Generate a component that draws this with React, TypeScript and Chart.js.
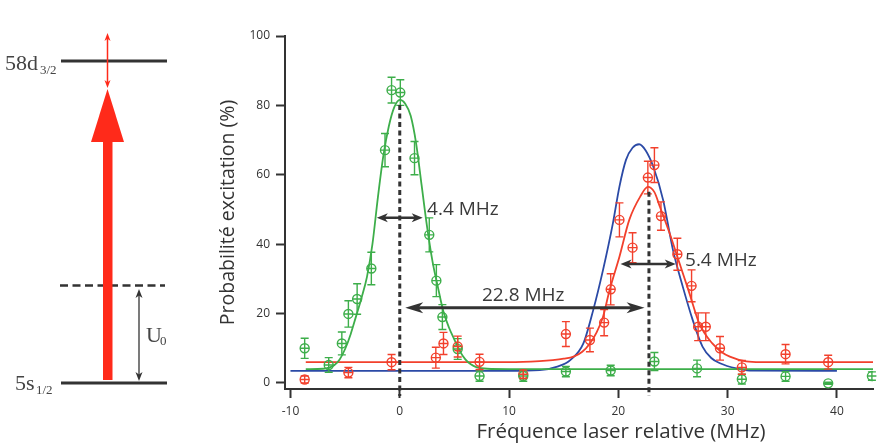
import { useEffect, useRef } from 'react';
import { Chart, registerables } from 'chart.js';

Chart.register(...registerables);

// ---------- data ----------
const xTicks = [-10, 0, 10, 20, 30, 40];
const yTicks = [0, 20, 40, 60, 80, 100];

const greenX = [-8.7, -6.5, -5.3, -4.7, -3.9, -2.6, -1.35, -0.75, 0.05, 1.35, 2.7, 3.35, 3.9, 5.3, 7.3, 11.3, 15.2, 19.3, 23.3, 27.2, 31.3, 35.3, 39.2, 43.2];
const greenY = [10.0, 5.2, 11.4, 19.9, 24.2, 33.0, 67.1, 84.4, 83.7, 64.8, 42.7, 29.5, 19.0, 9.8, 2.0, 2.0, 3.3, 3.6, 6.2, 4.2, 1.1, 1.9, -0.1, 2.0];
const greenErr = [2.9, 2.1, 3.3, 3.8, 4.4, 4.7, 4.8, 3.7, 3.7, 4.8, 4.9, 4.6, 3.6, 3.0, 1.5, 1.5, 1.5, 1.5, 2.6, 2.4, 1.4, 1.4, 0.3, 1.2];

const redX = [-8.7, -4.7, -0.75, 3.3, 4.0, 5.3, 7.3, 11.3, 15.2, 17.4, 18.7, 19.3, 20.1, 21.3, 22.7, 23.3, 23.9, 25.4, 26.7, 27.3, 28.0, 29.3, 31.3, 35.3, 39.2];
const redY = [1.0, 3.0, 6.0, 7.3, 11.4, 10.5, 6.1, 2.5, 14.1, 12.4, 17.4, 27.0, 47.0, 39.0, 59.2, 62.8, 48.1, 37.1, 28.0, 16.2, 16.2, 10.0, 4.5, 8.3, 6.0];
const redErr = [1.0, 1.5, 2.2, 3.0, 3.2, 3.0, 2.2, 1.2, 3.6, 3.4, 3.8, 4.5, 4.9, 4.3, 4.7, 5.0, 4.1, 4.6, 4.6, 4.0, 4.0, 3.4, 2.0, 2.8, 2.0];

const greenFitX = [-8.6, -7, -6.5, -6, -5.5, -5, -4.5, -4, -3.5, -3, -2.5, -2, -1.5, -1, -0.5, 0, 0.5, 1, 1.5, 2, 2.5, 3, 3.5, 4, 4.5, 5, 5.5, 6, 6.5, 7, 8, 10, 43.4];
const greenFitY = [4.0, 4.1, 4.4, 5.1, 6.8, 9.8, 14.0, 19.2, 24.5, 30.6, 40.0, 53.5, 65.5, 74.0, 79.5, 81.6, 80.5, 77.0, 69.0, 57.0, 45.0, 35.0, 27.5, 20.5, 16.0, 12.5, 9.2, 6.8, 5.4, 4.6, 4.1, 4.0, 4.0];

const redFitX = [-8.6, 10, 12.8, 14, 15, 15.9, 16.7, 17.4, 18, 18.6, 19.2, 20.1, 21.0, 22.0, 22.7, 23.3, 23.8, 24.7, 25.6, 26.5, 27.4, 28.6, 29.5, 30.2, 31.7, 33, 43.4];
const redFitY = [6.0, 6.0, 6.3, 6.6, 7.0, 7.6, 9.0, 11.4, 14.5, 19.1, 26.8, 36.4, 47.0, 53.7, 56.5, 55.0, 50.8, 43.1, 34.5, 25.9, 17.2, 11.4, 8.8, 7.6, 6.2, 6.0, 6.0];

const blueFitX = [-10, 10, 12.8, 14.5, 15.6, 16.8, 17.7, 18.6, 19.5, 20.1, 20.7, 21.3, 21.9, 22.5, 23.2, 24.1, 25.0, 25.9, 26.8, 27.7, 28.5, 29.3, 30.8, 32, 40];
const blueFitY = [3.5, 3.5, 3.7, 4.8, 6.6, 11.4, 21.0, 32.6, 46.0, 56.6, 64.3, 67.8, 68.8, 67.0, 62.3, 52.7, 38.3, 27.7, 18.2, 10.5, 7.2, 5.7, 4.2, 3.6, 3.5];

// annotations (data units)
const centerLineX = [0, 22.8];
const centerLineTop = [80.1, 55.1];
const widthArrowFrom = [-2.1, 20.2];
const widthArrowTo = [2.1, 25.25];
const widthArrowY = [47.6, 34.3];
const widthLabels = ['4.4 MHz', '5.4 MHz'];
const widthLabelX = [2.5, 26.1];
const shiftArrow = { from: 0.5, to: 22.4, y: 21.7, label: '22.8 MHz', labelX: 11.3 };

const GREEN = '#3dae4a';
const RED = '#f2402c';
const BLUE = '#2b4aa6';
const INK = '#333333';
const SANS = 'Open Sans';

function pts(xs: number[], ys: number[]) {
  return xs.map((x, i) => ({ x, y: ys[i] }));
}

function head(ctx: CanvasRenderingContext2D, tx: number, ty: number, dx: number, dy: number, len: number, half: number) {
  // dx,dy unit direction of the arrow (pointing to tip)
  const bx = tx - dx * len, by = ty - dy * len;
  const nx = -dy, ny = dx;
  const mx = tx - dx * len * 0.72, my = ty - dy * len * 0.72;
  ctx.beginPath();
  ctx.moveTo(tx, ty);
  ctx.lineTo(bx + nx * half, by + ny * half);
  ctx.lineTo(mx, my);
  ctx.lineTo(bx - nx * half, by - ny * half);
  ctx.closePath();
  ctx.fill();
}

const errorBarsPlugin = {
  id: 'errorBars',
  afterDatasetsDraw(chart: any) {
    const { ctx, scales } = chart;
    const x = scales.x, y = scales.y;
    chart.data.datasets.forEach((ds: any) => {
      if (!ds.errors) return;
      ctx.save();
      ctx.strokeStyle = ds.borderColor;
      ctx.lineWidth = 1.4;
      ds.data.forEach((p: any, i: number) => {
        const px = x.getPixelForValue(p.x);
        const py = y.getPixelForValue(p.y);
        const top = y.getPixelForValue(p.y + ds.errors[i]);
        const bot = y.getPixelForValue(p.y - ds.errors[i]);
        ctx.beginPath();
        ctx.moveTo(px, top); ctx.lineTo(px, bot);
        ctx.moveTo(px - 4, top); ctx.lineTo(px + 4, top);
        ctx.moveTo(px - 4, bot); ctx.lineTo(px + 4, bot);
        ctx.moveTo(px - 4.5, py); ctx.lineTo(px + 4.5, py);
        ctx.stroke();
      });
      ctx.restore();
    });
  },
};

const annotationsPlugin = {
  id: 'annotations',
  afterDatasetsDraw(chart: any) {
    const { ctx, scales, chartArea } = chart;
    const x = scales.x, y = scales.y;
    ctx.save();
    // dashed center lines
    ctx.strokeStyle = INK;
    ctx.lineWidth = 3;
    ctx.setLineDash([5, 3.5]);
    centerLineX.forEach((cx, i) => {
      const px = x.getPixelForValue(cx);
      ctx.beginPath();
      ctx.moveTo(px, y.getPixelForValue(centerLineTop[i]));
      ctx.lineTo(px, chartArea.bottom + 7);
      ctx.stroke();
    });
    ctx.setLineDash([]);
    ctx.fillStyle = INK;
    // width arrows
    ctx.lineWidth = 2.5;
    widthArrowFrom.forEach((f, i) => {
      const x1 = x.getPixelForValue(f), x2 = x.getPixelForValue(widthArrowTo[i]);
      const py = y.getPixelForValue(widthArrowY[i]);
      ctx.beginPath();
      ctx.moveTo(x1 + 6, py); ctx.lineTo(x2 - 6, py);
      ctx.stroke();
      head(ctx, x1, py, -1, 0, 11, 4.5);
      head(ctx, x2, py, 1, 0, 11, 4.5);
    });
    // shift arrow
    {
      const x1 = x.getPixelForValue(shiftArrow.from), x2 = x.getPixelForValue(shiftArrow.to);
      const py = y.getPixelForValue(shiftArrow.y);
      ctx.lineWidth = 3;
      ctx.beginPath();
      ctx.moveTo(x1 + 10, py); ctx.lineTo(x2 - 10, py);
      ctx.stroke();
      head(ctx, x1, py, -1, 0, 18, 5.5);
      head(ctx, x2, py, 1, 0, 18, 5.5);
    }
    // labels
    ctx.font = `19px "${SANS}"`;
    ctx.fillStyle = '#3a3a3a';
    ctx.textBaseline = 'alphabetic';
    ctx.textAlign = 'left';
    ctx.fillText(widthLabels[0], x.getPixelForValue(widthLabelX[0]), y.getPixelForValue(widthArrowY[0]) - 3);
    ctx.fillText(widthLabels[1], x.getPixelForValue(widthLabelX[1]), y.getPixelForValue(widthArrowY[1]) + 2);
    ctx.textAlign = 'center';
    ctx.fillText(shiftArrow.label, x.getPixelForValue(shiftArrow.labelX), y.getPixelForValue(shiftArrow.y) - 7);
    // x axis title
    ctx.font = `20.5px "${SANS}"`;
    ctx.fillStyle = INK;
    ctx.textAlign = 'center';
    ctx.fillText('Fréquence laser relative (MHz)', 621, 438);
    ctx.restore();
  },
};

const diagramPlugin = {
  id: 'levelDiagram',
  afterDraw(chart: any) {
    const ctx: CanvasRenderingContext2D = chart.ctx;
    ctx.save();
    // levels
    ctx.strokeStyle = '#333';
    ctx.lineWidth = 3;
    ctx.beginPath();
    ctx.moveTo(61, 61); ctx.lineTo(167, 61);
    ctx.moveTo(61, 383); ctx.lineTo(167, 383);
    ctx.stroke();
    ctx.lineWidth = 2.5;
    ctx.setLineDash([8, 4.5]);
    ctx.beginPath();
    ctx.moveTo(60, 285.5); ctx.lineTo(165, 285.5);
    ctx.stroke();
    ctx.setLineDash([]);
    // big red arrow
    ctx.fillStyle = '#ff2a1a';
    ctx.fillRect(103, 141, 9.5, 239);
    ctx.beginPath();
    ctx.moveTo(91, 142); ctx.lineTo(124, 142); ctx.lineTo(107.5, 89);
    ctx.closePath();
    ctx.fill();
    // small red double arrow
    ctx.strokeStyle = '#ff2a1a';
    ctx.lineWidth = 1.5;
    ctx.beginPath();
    ctx.moveTo(107.5, 38); ctx.lineTo(107.5, 84);
    ctx.stroke();
    head(ctx, 107.5, 33, 0, -1, 8, 3);
    head(ctx, 107.5, 88, 0, 1, 8, 3);
    // U0 arrow
    ctx.strokeStyle = '#333';
    ctx.fillStyle = '#333';
    ctx.lineWidth = 1.3;
    ctx.beginPath();
    ctx.moveTo(139, 294); ctx.lineTo(139, 376);
    ctx.stroke();
    head(ctx, 139, 289, 0, -1, 9, 3.5);
    head(ctx, 139, 381, 0, 1, 9, 3.5);
    // texts
    ctx.fillStyle = '#444';
    ctx.textAlign = 'left';
    ctx.textBaseline = 'alphabetic';
    ctx.font = '22px "Liberation Serif"';
    ctx.fillText('58d', 5, 70);
    ctx.fillText('5s', 15, 390);
    ctx.fillText('U', 146, 342);
    ctx.font = '13px "Liberation Serif"';
    ctx.fillText('3/2', 40, 74);
    ctx.fillText('1/2', 36, 394);
    ctx.fillText('0', 160, 345);
    ctx.restore();
  },
};

export default function App() {
  const ref = useRef<HTMLCanvasElement | null>(null);
  useEffect(() => {
    if (!ref.current) return;
    const chart = new Chart(ref.current, {
      type: 'scatter',
      data: {
        datasets: [
          {
            label: 'vert',
            data: pts(greenX, greenY),
            errors: greenErr,
            borderColor: GREEN,
            backgroundColor: 'rgba(0,0,0,0)',
            pointRadius: 4.5,
            pointBorderWidth: 1.4,
            showLine: false,
            order: 0,
          } as any,
          {
            label: 'rouge',
            data: pts(redX, redY),
            errors: redErr,
            borderColor: RED,
            backgroundColor: 'rgba(0,0,0,0)',
            pointRadius: 4.5,
            pointBorderWidth: 1.4,
            showLine: false,
            order: 0,
          } as any,
          {
            label: 'fit vert',
            data: pts(greenFitX, greenFitY),
            borderColor: GREEN,
            borderWidth: 1.8,
            pointRadius: 0,
            showLine: true,
            cubicInterpolationMode: 'monotone',
            fill: false,
            order: 1,
          } as any,
          {
            label: 'fit rouge',
            data: pts(redFitX, redFitY),
            borderColor: RED,
            borderWidth: 1.8,
            pointRadius: 0,
            showLine: true,
            cubicInterpolationMode: 'monotone',
            fill: false,
            order: 1,
          } as any,
          {
            label: 'fit bleu',
            data: pts(blueFitX, blueFitY),
            borderColor: BLUE,
            borderWidth: 1.8,
            pointRadius: 0,
            showLine: true,
            cubicInterpolationMode: 'monotone',
            fill: false,
            order: 2,
          } as any,
        ],
      },
      options: {
        animation: false,
        responsive: false,
        layout: { padding: { left: 217, right: 13, top: 36, bottom: 0 } },
        plugins: { legend: { display: false }, tooltip: { enabled: false } },
        scales: {
          x: {
            type: 'linear',
            position: 'bottom',
            min: -10.5,
            max: 43.3,
            afterBuildTicks: (s: any) => { s.ticks = xTicks.map((v) => ({ value: v })); },
            afterFit: (s: any) => { s.height = 55; },
            grid: { display: true, drawOnChartArea: false, drawTicks: true, tickLength: 9, tickColor: INK, tickWidth: 2 },
            border: { display: true, color: INK, width: 2 },
            ticks: { font: { family: SANS, size: 12 }, color: INK, padding: 6, maxRotation: 0, autoSkip: false },
          },
          y: {
            type: 'linear',
            position: 'left',
            min: -1.73,
            max: 100,
            afterBuildTicks: (s: any) => { s.ticks = yTicks.map((v) => ({ value: v })); },
            afterFit: (s: any) => { s.width = 68; },
            grid: { display: true, drawOnChartArea: false, drawTicks: true, tickLength: 9, tickColor: INK, tickWidth: 2 },
            border: { display: true, color: INK, width: 2 },
            ticks: { font: { family: SANS, size: 12 }, color: INK, padding: 6, autoSkip: false },
            title: {
              display: true,
              text: 'Probabilité excitation (%)',
              font: { family: SANS, size: 19.5 },
              color: INK,
              padding: { top: 0, bottom: 0 },
            },
          },
        },
      } as any,
      plugins: [errorBarsPlugin, annotationsPlugin, diagramPlugin],
    });
    return () => chart.destroy();
  }, []);
  return (
    <div style={{ position: 'fixed', left: 0, top: 0, width: 886, height: 444, background: '#fff' }}>
      <canvas ref={ref} width={886} height={444} style={{ width: 886, height: 444, display: 'block' }} />
    </div>
  );
}
